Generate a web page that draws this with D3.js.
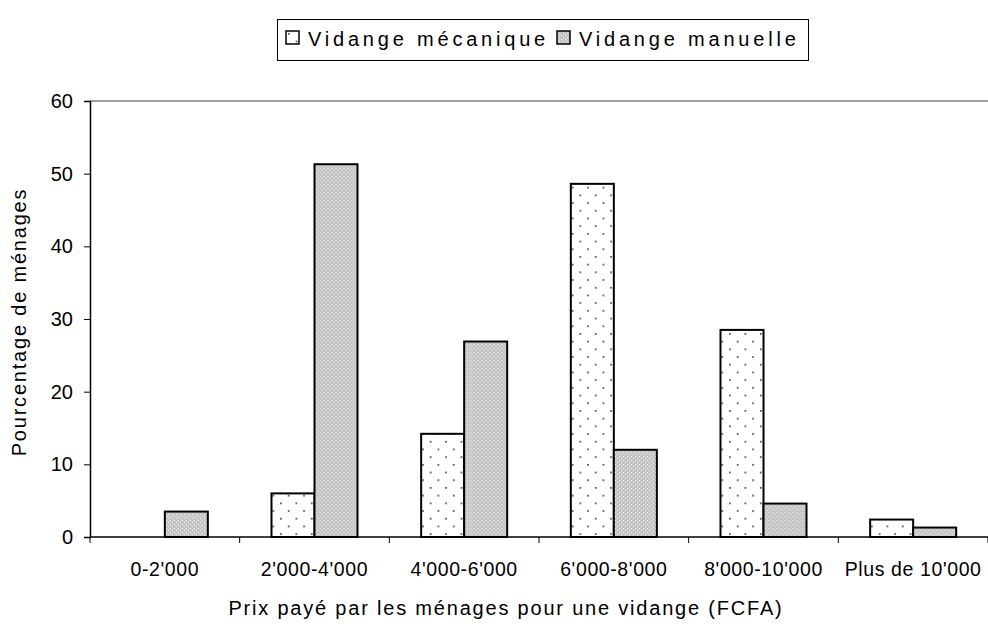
<!DOCTYPE html>
<html>
<head>
<meta charset="utf-8">
<script src="https://cdn.jsdelivr.net/npm/d3@7"></script>
<style>
  body { margin: 0; background: #fff; }
  svg { display: block; }
  text { font-family: "Liberation Sans", Arial, sans-serif; fill: #000; }
</style>
</head>
<body>
<svg id="chart" width="988" height="627"></svg>
<script>
// Price bands and share of households for each emptying method
const categories = ["0-2'000", "2'000-4'000", "4'000-6'000", "6'000-8'000", "8'000-10'000", "Plus de 10'000"];
const seriesNames = ["Vidange mécanique", "Vidange manuelle"];
const mecanique = [0, 6.0, 14.2, 48.6, 28.5, 2.4];
const manuelle = [3.5, 51.3, 26.9, 12.0, 4.6, 1.3];
const yTicks = [0, 10, 20, 30, 40, 50, 60];

const svg = d3.select("#chart");
const W = 988;
const margin = { left: 90, right: 0, top: 101 };
const plotW = W - margin.left - margin.right;
const plotBottom = 537;

// Fill patterns
const defs = svg.append("defs");
const dots = defs.append("pattern").attr("id", "dots")
  .attr("patternUnits", "userSpaceOnUse").attr("width", 15.4).attr("height", 15.4);
dots.append("rect").attr("width", 15.4).attr("height", 15.4).attr("fill", "#fff");
[[0, 0], [7.7, 7.7]].forEach(([x, y]) => {
  dots.append("rect").attr("x", x + 2).attr("y", y + 2).attr("width", 1.6).attr("height", 1.6).attr("fill", "#333");
});
const grey = defs.append("pattern").attr("id", "grey")
  .attr("patternUnits", "userSpaceOnUse").attr("width", 4).attr("height", 4);
grey.append("rect").attr("width", 4).attr("height", 4).attr("fill", "#c6c6c6");
grey.append("rect").attr("x", 0).attr("y", 0).attr("width", 1).attr("height", 1).attr("fill", "#f2f2f2");
grey.append("rect").attr("x", 2).attr("y", 2).attr("width", 1).attr("height", 1).attr("fill", "#f2f2f2");
const fills = ["url(#dots)", "url(#grey)"];

// Scales
const x0 = d3.scaleBand().domain(categories).range([margin.left, margin.left + plotW]).paddingInner(0).paddingOuter(0);
const x1 = d3.scaleBand().domain(seriesNames).range([0, x0.bandwidth()]).paddingInner(0).paddingOuter(0.74);
const y = d3.scaleLinear().domain([0, 60]).range([plotBottom, margin.top]);

// Top border of the plot area
svg.append("line")
  .attr("x1", margin.left).attr("x2", W)
  .attr("y1", y(60)).attr("y2", y(60))
  .attr("stroke", "#808080").attr("stroke-width", 1.5);

// Bars
const rows = categories.map((c, i) => ({ cat: c, vals: [mecanique[i], manuelle[i]] }));
const groups = svg.append("g").selectAll("g").data(rows).join("g")
  .attr("transform", d => `translate(${x0(d.cat)},0)`);
groups.selectAll("rect")
  .data(d => d.vals.map((v, j) => ({ name: seriesNames[j], v, j })).filter(e => e.v > 0))
  .join("rect")
  .attr("x", e => x1(e.name))
  .attr("width", x1.bandwidth())
  .attr("y", e => y(e.v))
  .attr("height", e => y(0) - y(e.v))
  .attr("fill", e => fills[e.j])
  .attr("stroke", "#000").attr("stroke-width", 2);

// Y axis
const yAxis = svg.append("g").attr("transform", `translate(${margin.left},0)`)
  .call(d3.axisLeft(y).tickValues(yTicks).tickSize(6).tickPadding(11));
yAxis.select(".domain").attr("stroke", "#000").attr("stroke-width", 1.5);
yAxis.selectAll(".tick line").attr("stroke", "#000");
yAxis.selectAll("text").style("font-size", "20px").attr("font-family", "Liberation Sans, Arial, sans-serif");

// X axis: ticks at category boundaries
svg.append("line")
  .attr("x1", margin.left).attr("x2", W)
  .attr("y1", plotBottom).attr("y2", plotBottom)
  .attr("stroke", "#000").attr("stroke-width", 1.5);
const bounds = categories.map(c => x0(c)).concat([x0(categories[categories.length - 1]) + x0.bandwidth()]);
svg.append("g").selectAll("line").data(bounds).join("line")
  .attr("x1", d => d).attr("x2", d => d)
  .attr("y1", plotBottom).attr("y2", plotBottom + 6)
  .attr("stroke", "#000");
svg.append("g").selectAll("text").data(categories).join("text")
  .attr("x", d => x0(d) + x0.bandwidth() / 2)
  .attr("y", 576)
  .attr("text-anchor", "middle")
  .style("font-size", "19.5px").style("letter-spacing", "0.6px")
  .text(d => d);

// Axis titles
svg.append("text")
  .attr("x", 506).attr("y", 615)
  .attr("text-anchor", "middle")
  .style("font-size", "20px").style("letter-spacing", "1.8px")
  .text("Prix payé par les ménages pour une vidange (FCFA)");
svg.append("text")
  .attr("transform", `translate(26,${322}) rotate(-90)`)
  .attr("text-anchor", "middle")
  .style("font-size", "20px").style("letter-spacing", "1.8px")
  .text("Pourcentage de ménages");

// Legend
const legend = svg.append("g");
legend.append("rect")
  .attr("x", 277.5).attr("y", 19.5).attr("width", 531).attr("height", 41)
  .attr("fill", "#fff").attr("stroke", "#000").attr("stroke-width", 1);
const legendItems = [
  { name: seriesNames[0], fill: fills[0], x: 286 },
  { name: seriesNames[1], fill: fills[1], x: 557 }
];
const li = legend.selectAll("g.item").data(legendItems).join("g").attr("class", "item")
  .attr("transform", d => `translate(${d.x},31)`);
li.append("rect").attr("width", 13).attr("height", 13)
  .attr("fill", d => d.fill).attr("stroke", "#000").attr("stroke-width", 1.5);
li.append("text").attr("x", 22).attr("y", 15)
  .style("font-size", "20px").style("letter-spacing", "3.8px")
  .text(d => d.name);
</script>
</body>
</html>
